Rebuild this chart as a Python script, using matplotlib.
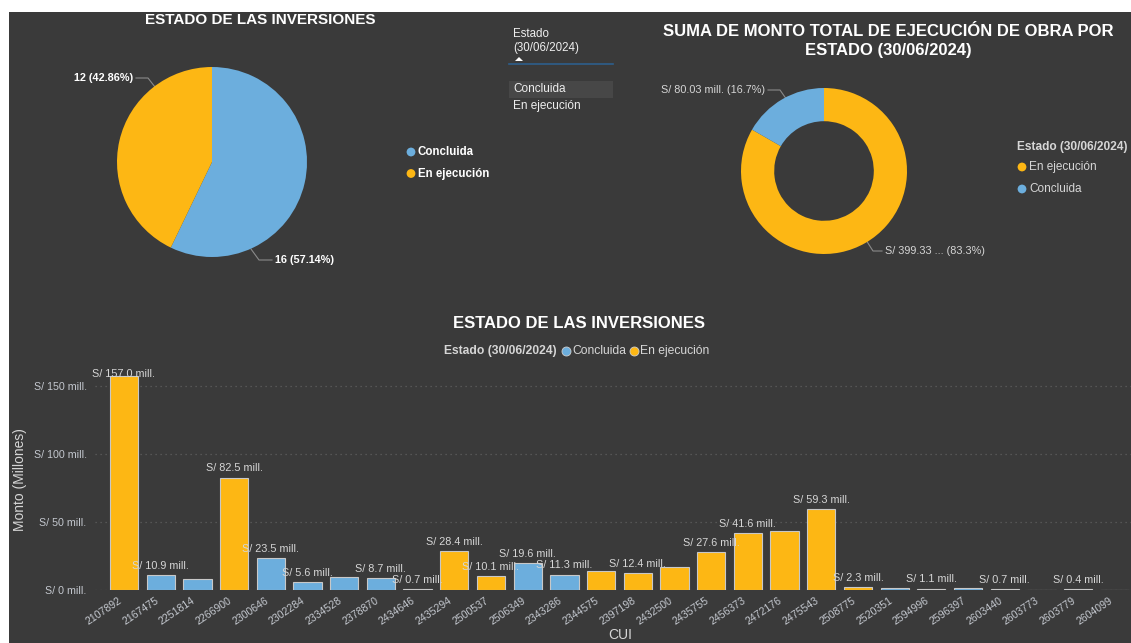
import matplotlib
matplotlib.use('Agg')
import matplotlib.pyplot as plt
from matplotlib.patches import Rectangle, Polygon
from matplotlib.transforms import ScaledTranslation

# ---------------- data ----------------
estado_labels = ['Concluida', 'En ejecución']
estado_counts = [16, 12]

monto_estado_labels = ['En ejecución', 'Concluida']
monto_estado_values = [399.33, 80.03]

cui = ['2107892', '2167475', '2251814', '2266900', '2300646', '2302284', '2334528',
       '2378870', '2434646', '2435294', '2500537', '2506349', '2343286', '2344575',
       '2397198', '2432500', '2435755', '2456373', '2472176', '2475543', '2508775',
       '2520351', '2594996', '2596397', '2603440', '2603773', '2603779', '2604099']
monto = [157.0, 10.9, 7.8, 82.5, 23.5, 5.6, 9.3,
         8.7, 0.7, 28.4, 10.1, 19.6, 11.3, 14.2,
         12.4, 17.1, 27.6, 41.6, 43.4, 59.3, 2.3,
         1.2, 1.1, 1.5, 0.7, 0.3, 0.4, 0.2]
estado_cui = ['En ejecución', 'Concluida', 'Concluida', 'En ejecución', 'Concluida', 'Concluida', 'Concluida',
              'Concluida', 'Concluida', 'En ejecución', 'En ejecución', 'Concluida', 'Concluida', 'En ejecución',
              'En ejecución', 'En ejecución', 'En ejecución', 'En ejecución', 'En ejecución', 'En ejecución', 'En ejecución',
              'Concluida', 'Concluida', 'Concluida', 'Concluida', 'Concluida', 'Concluida', 'Concluida']
labeled_idx = [0, 1, 3, 4, 5, 7, 8, 9, 10, 11, 12, 14, 16, 17, 19, 20, 22, 24, 26]
y_ticks = [0, 50, 100, 150]

# ---------------- style ----------------
W, H = 1131, 643
BG = '#3a3a3a'
BLUE = '#6caedd'
YELLOW = '#fdb714'
COLORS = {'Concluida': BLUE, 'En ejecución': YELLOW}
TXT = '#d6d6d6'
TICK = '#c4c8cf'
plt.rcParams['font.family'] = ['Liberation Sans', 'DejaVu Sans']


def fr(x0, y0, x1, y1):
    return [x0 / W, 1 - y1 / H, (x1 - x0) / W, (y1 - y0) / H]


fig = plt.figure(figsize=(W / 100, H / 100), dpi=100, facecolor='white')

# overlay (pixel coordinates)
ov = fig.add_axes([0, 0, 1, 1])
ov.set_xlim(0, W)
ov.set_ylim(H, 0)
ov.axis('off')
ov.add_patch(Rectangle((9, 12), W - 9, H - 12, facecolor=BG, edgecolor='none'))

# ---------------- pie ----------------
ov.text(260, 20, 'ESTADO DE LAS INVERSIONES', color='white', fontsize=11,
        fontweight='bold', ha='center', va='center')
axp = fig.add_axes(fr(117, 67, 307, 257))
axp.pie(estado_counts, colors=[COLORS[l] for l in estado_labels], startangle=90,
        counterclock=False, radius=1, wedgeprops=dict(linewidth=0))
axp.set_xlim(-1, 1)
axp.set_ylim(-1, 1)
axp.axis('off')
tot = sum(estado_counts)
pie_txt = {l: f"{c} ({c / tot * 100:.2f}%)" for l, c in zip(estado_labels, estado_counts)}
ov.text(133, 78, pie_txt['En ejecución'], color='white', fontsize=7.8,
        fontweight='bold', ha='right', va='center')
ov.plot([136, 148, 155], [78, 78, 87], color='#8a8a8a', lw=0.8)
ov.text(275, 260, pie_txt['Concluida'], color='white', fontsize=7.8,
        fontweight='bold', ha='left', va='center')
ov.plot([251, 259, 272], [249, 260, 260], color='#8a8a8a', lw=0.8)
for i, l in enumerate(estado_labels):
    yy = 152 + i * 21.5
    ov.scatter([411], [yy], s=40, color=COLORS[l], edgecolors='none')
    ov.text(418, yy, l, color='white', fontsize=8.3, fontweight='bold', va='center')

# ---------------- slicer ----------------
ov.text(513, 34, 'Estado', color='#eeeeee', fontsize=8.3, va='center')
ov.text(513, 48, '(30/06/2024)', color='#eeeeee', fontsize=8.3, va='center')
ov.add_patch(Polygon([[515, 61], [523, 61], [519, 57]], closed=True,
                     facecolor='white', edgecolor='none'))
ov.plot([509, 613], [64, 64], color='#2d5f8c', lw=1.2)
ov.add_patch(Rectangle((509, 81), 104, 17, facecolor='#474747', edgecolor='none'))
ov.text(513, 89, 'Concluida', color='#eeeeee', fontsize=8.5, va='center')
ov.text(513, 106, 'En ejecución', color='#eeeeee', fontsize=8.5, va='center')

# ---------------- donut ----------------
ov.text(888, 31, 'SUMA DE MONTO TOTAL DE EJECUCIÓN DE OBRA POR', color='white',
        fontsize=12, fontweight='bold', ha='center', va='center')
ov.text(888, 50, 'ESTADO (30/06/2024)', color='white', fontsize=12,
        fontweight='bold', ha='center', va='center')
axd = fig.add_axes(fr(741, 88, 907, 254))
axd.pie(monto_estado_values, colors=[COLORS[l] for l in monto_estado_labels],
        startangle=90, counterclock=False, radius=1,
        wedgeprops=dict(width=0.4, linewidth=0))
axd.set_xlim(-1, 1)
axd.set_ylim(-1, 1)
axd.axis('off')
dtot = sum(monto_estado_values)
dv = dict(zip(monto_estado_labels, monto_estado_values))
ov.text(765, 90, f"S/ {dv['Concluida']:.2f} mill. ({dv['Concluida'] / dtot * 100:.1f}%)",
        color=TXT, fontsize=7.8, ha='right', va='center')
ov.plot([768, 780, 787], [90, 90, 100], color='#8a8a8a', lw=0.8)
ov.text(885, 251, f"S/ {dv['En ejecución']:.2f} ... ({dv['En ejecución'] / dtot * 100:.1f}%)",
        color=TXT, fontsize=7.8, ha='left', va='center')
ov.plot([866, 873, 882], [240, 251, 251], color='#8a8a8a', lw=0.8)
ov.text(1017, 147, 'Estado (30/06/2024)', color=TXT, fontsize=8.6,
        fontweight='bold', va='center')
for i, l in enumerate(monto_estado_labels):
    yy = 167 + i * 22
    ov.scatter([1022], [yy], s=40, color=COLORS[l], edgecolors='none')
    ov.text(1029, yy, l, color=TXT, fontsize=8.5, va='center')

# ---------------- bar chart ----------------
ov.text(579, 324, 'ESTADO DE LAS INVERSIONES', color='white', fontsize=12,
        fontweight='bold', ha='center', va='center')
ov.text(444, 351, 'Estado (30/06/2024)', color=TXT, fontsize=8.7,
        fontweight='bold', va='center')
ov.scatter([566], [351], s=42, color=BLUE, edgecolors='#cfcfcf', linewidths=0.6)
ov.text(572, 351, 'Concluida', color=TXT, fontsize=8.7, va='center')
ov.scatter([634], [351], s=42, color=YELLOW, edgecolors='#cfcfcf', linewidths=0.6)
ov.text(640, 351, 'En ejecución', color=TXT, fontsize=8.7, va='center')

axb = fig.add_axes(fr(95, 372, 1131, 590))
axb.patch.set_visible(False)
x = list(range(len(cui)))
axb.bar(x, monto, width=0.77, color=[COLORS[e] for e in estado_cui],
        edgecolor='#c8c8c8', linewidth=0.8, zorder=3)
axb.set_xlim(-0.79, 27.44)
axb.set_ylim(0, 160)
axb.set_yticks(y_ticks)
axb.set_yticklabels([f'S/ {v} mill.' for v in y_ticks])
for v in y_ticks:
    axb.axhline(v, color='#5e5e5e', lw=0.9, ls=(0, (1, 3)), zorder=1)
axb.set_xticks(x)
axb.set_xticklabels(cui, rotation=34, ha='right', va='top', rotation_mode='anchor')
axb.tick_params(axis='both', length=0, colors=TICK, labelsize=7.7)
axb.tick_params(axis='y', pad=6)
axb.tick_params(axis='x', pad=4, labelsize=7.6)
shift = ScaledTranslation(-6 / 100, 0, fig.dpi_scale_trans)
for lab in axb.get_xticklabels():
    lab.set_transform(lab.get_transform() + shift)
for s in axb.spines.values():
    s.set_visible(False)
for i in labeled_idx:
    axb.annotate(f'S/ {monto[i]:.1f} mill.', xy=(i, min(monto[i], 151.5)),
                 xytext=(0, 3), textcoords='offset points', ha='center',
                 va='bottom', color=TXT, fontsize=7.8, zorder=4)
ov.text(20, 480, 'Monto (Millones)', color=TXT, fontsize=10, rotation=90,
        ha='center', va='center')
ov.text(620, 642, 'CUI', color=TXT, fontsize=10, ha='center', va='bottom')

fig.savefig('out.png', dpi=100, facecolor='white')
